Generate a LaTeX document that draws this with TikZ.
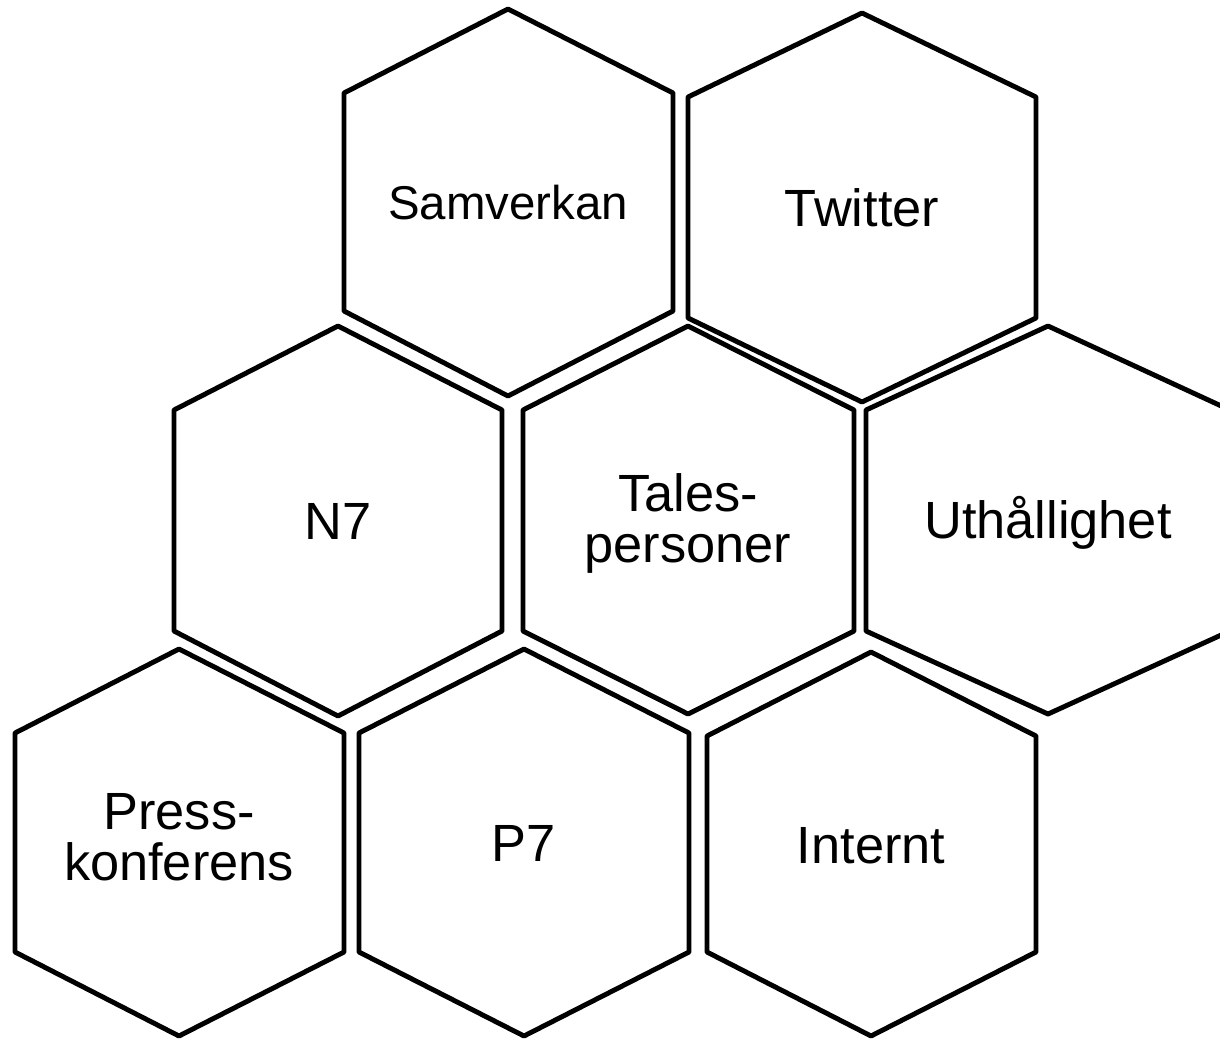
\documentclass[tikz,border=0pt]{standalone}
\usepackage{fontspec}
\setmainfont{Liberation Sans}
\usepackage{tikz}
\usetikzlibrary{positioning}

\begin{document}
\begin{tikzpicture}[
            x=0.02cm, y=-0.02cm,
            cell/.style={draw, line width=2.8pt, line join=round},
            lbl/.style={font=\fontsize{29.8}{28.9}\selectfont, align=center, anchor=base, inner sep=0pt},
        ]
            \clip (0,0) rectangle (1220,1039);
            % cells: centre x / left / right / top / upper / lower / bottom
            \foreach \cx/\l/\r/\t/\u/\d/\b in {
                508/344/673/9/93/311/396,
                862/688/1036/13/97/318/402,
                338/174/502/326/410/631/716,
                688/523/854/326/410/631/714,
                1048/866/1230/326/410/631/714,
                179/15/344/649/733/952/1036,
                524/359/689/649/733/952/1036,
                871/707/1036/652/736/952/1036}
                \draw[cell] (\cx,\t) -- (\r,\u) -- (\r,\d) -- (\cx,\b) -- (\l,\d) -- (\l,\u) -- cycle;

            \node[lbl, font=\fontsize{27}{27}\selectfont] (samverkan) at (508,219) {Samverkan};
            \node[lbl] (twitter) at (862,226) {Twitter};
            \node[lbl] (n7) at (338,539) {N7};
            \node[lbl] (tales) at (688,562) {Tales-\\personer};
            \node[lbl] (uthallighet) at (1048,538) {Uthållighet};
            \node[lbl] (press) at (179,880) {Press-\\konferens};
            \node[lbl] (p7) at (524,861) {P7};
            \node[lbl] (internt) at (871,863) {Internt};
        \end{tikzpicture}
\end{document}
